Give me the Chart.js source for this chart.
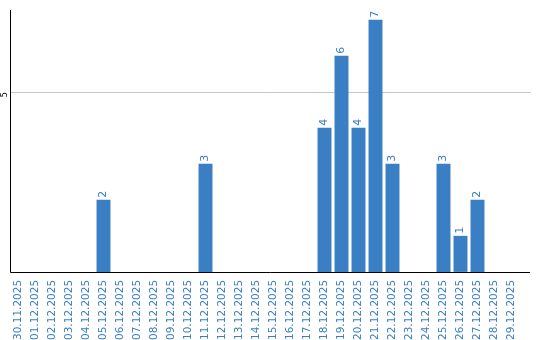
<!DOCTYPE html>
<html><head><meta charset="utf-8">
<script src="https://cdn.jsdelivr.net/npm/chart.js@4"></script>
<style>html,body{margin:0;padding:0;background:#fff}#wrap{width:540px;height:340px}</style>
</head><body><div id="wrap"><canvas id="c" width="540" height="340"></canvas></div>
<script>
const categories = ["30.11.2025","01.12.2025","02.12.2025","03.12.2025","04.12.2025","05.12.2025","06.12.2025","07.12.2025","08.12.2025","09.12.2025","10.12.2025","11.12.2025","12.12.2025","13.12.2025","14.12.2025","15.12.2025","16.12.2025","17.12.2025","18.12.2025","19.12.2025","20.12.2025","21.12.2025","22.12.2025","23.12.2025","24.12.2025","25.12.2025","26.12.2025","27.12.2025","28.12.2025","29.12.2025"];
const values = [0,0,0,0,0,2,0,0,0,0,0,3,0,0,0,0,0,0,4,6,4,7,3,0,0,3,1,2,0,0];
const yTicks = [5];

const BLUE = '#3a7ec3';
const under = {
  id: 'under',
  beforeDatasetsDraw(chart) {
    const ctx = chart.ctx, y = chart.scales.y, ca = chart.chartArea;
    ctx.save();
    ctx.strokeStyle = '#c8c8c8';
    ctx.lineWidth = 1;
    yTicks.forEach(t => {
      const py = Math.round(y.getPixelForValue(t)) + 0.5;
      ctx.beginPath(); ctx.moveTo(ca.left, py); ctx.lineTo(531, py); ctx.stroke();
    });
    ctx.restore();
  }
};
const overlay = {
  id: 'overlay',
  afterDatasetsDraw(chart) {
    const ctx = chart.ctx;
    const meta = chart.getDatasetMeta(0);
    ctx.save();
    ctx.fillStyle = BLUE;
    ctx.font = '11px "DejaVu Sans"';
    ctx.textAlign = 'left';
    ctx.textBaseline = 'middle';
    meta.data.forEach((bar, i) => {
      const v = values[i];
      if (!v) return;
      ctx.save();
      ctx.translate(bar.x, bar.y - 2);
      ctx.rotate(-Math.PI / 2);
      ctx.fillText(String(v), 0, 0);
      ctx.restore();
    });
    const y = chart.scales.y;
    const ca = chart.chartArea;
    ctx.fillStyle = '#000';
    ctx.font = '8px "DejaVu Sans"';
    ctx.textAlign = 'center';
    ctx.textBaseline = 'middle';
    yTicks.forEach(t => {
      ctx.save();
      ctx.translate(5, y.getPixelForValue(t) + 3);
      ctx.rotate(-Math.PI / 2);
      ctx.fillText(String(t), 0, 0);
      ctx.restore();
    });
    ctx.strokeStyle = '#000';
    ctx.lineWidth = 1;
    const by = Math.round(ca.bottom) + 0.5;
    const lx = Math.round(ca.left) + 0.5;
    ctx.beginPath();
    ctx.moveTo(lx, Math.round(ca.top));
    ctx.lineTo(lx, by);
    ctx.lineTo(530, by);
    ctx.stroke();
    ctx.restore();
  }
};

new Chart(document.getElementById('c'), {
  type: 'bar',
  data: { labels: categories, datasets: [{ data: values, backgroundColor: BLUE, categoryPercentage: 1, barPercentage: 0.82 }] },
  options: {
    responsive: false, animation: false,
    layout: { padding: { left: 10, right: 20, top: 10, bottom: 0 } },
    plugins: { legend: { display: false }, tooltip: { enabled: false } },
    scales: {
      x: {
        grid: { display: false },
        border: { display: false },
        ticks: { color: BLUE, font: { family: 'DejaVu Sans', size: 10.5 }, minRotation: 90, maxRotation: 90, autoSkip: false, padding: 0 }
      },
      y: {
        display: false,
        min: 0, max: 7.27,
        ticks: { stepSize: 5 }
      }
    }
  },
  plugins: [under, overlay]
});
</script></body></html>
